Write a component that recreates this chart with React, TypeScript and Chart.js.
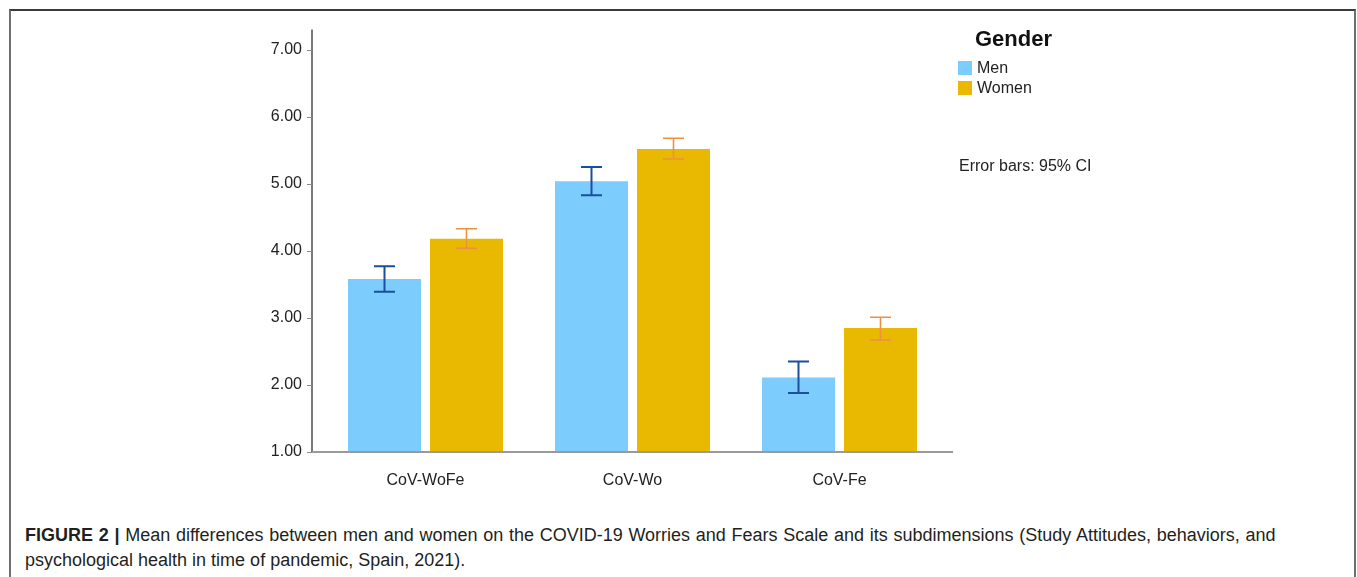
import React, { useEffect, useRef } from "react";
import { Chart, registerables } from "chart.js";

Chart.register(...registerables);

const categories = ["CoV-WoFe", "CoV-Wo", "CoV-Fe"];
const seriesNames = ["Men", "Women"];
const menMeans = [3.58, 5.04, 2.11];
const menLower = [3.39, 4.83, 1.88];
const menUpper = [3.77, 5.25, 2.35];
const womenMeans = [4.18, 5.52, 2.85];
const womenLower = [4.04, 5.37, 2.67];
const womenUpper = [4.33, 5.68, 3.01];
const yTicks = [1, 2, 3, 4, 5, 6, 7];

const barColors = ["#7DCCFE", "#E8B900"];
const errColors = ["#1B4F9C", "#EE9040"];
const lowers = [menLower, womenLower];
const uppers = [menUpper, womenUpper];

const FONT = "'Liberation Sans', Arial, sans-serif";

const errorBarPlugin = {
  id: "errorBars",
  afterDatasetsDraw(chart: any) {
    const ctx = chart.ctx;
    const yScale = chart.scales.y;
    chart.data.datasets.forEach((_ds: any, i: number) => {
      const meta = chart.getDatasetMeta(i);
      meta.data.forEach((bar: any, j: number) => {
        const x = bar.x;
        const yt = yScale.getPixelForValue(uppers[i][j]);
        const yb = yScale.getPixelForValue(lowers[i][j]);
        ctx.save();
        ctx.strokeStyle = errColors[i];
        ctx.lineWidth = i === 0 ? 2 : 1.6;
        ctx.beginPath();
        ctx.moveTo(x, yt);
        ctx.lineTo(x, yb);
        ctx.moveTo(x - 10.5, yt);
        ctx.lineTo(x + 10.5, yt);
        ctx.moveTo(x - 10.5, yb);
        ctx.lineTo(x + 10.5, yb);
        ctx.stroke();
        ctx.restore();
      });
    });
  },
};

const axisPlugin = {
  id: "axisLines",
  afterDraw(chart: any) {
    const ctx = chart.ctx;
    const { left, right, top, bottom } = chart.chartArea;
    const yScale = chart.scales.y;
    const ax = left - 10;
    ctx.save();
    ctx.strokeStyle = "#7a7a7a";
    ctx.lineWidth = 2;
    ctx.beginPath();
    ctx.moveTo(ax, top);
    ctx.lineTo(ax, bottom + 1);
    ctx.stroke();
    ctx.strokeStyle = "#9a9a9a";
    ctx.beginPath();
    ctx.moveTo(ax, bottom);
    ctx.lineTo(right + 10, bottom);
    ctx.stroke();
    ctx.strokeStyle = "#8a8a8a";
    ctx.lineWidth = 1;
    yScale.ticks.forEach((t: any) => {
      const y = Math.round(yScale.getPixelForValue(t.value)) + 0.5;
      ctx.beginPath();
      ctx.moveTo(ax - 5, y);
      ctx.lineTo(ax, y);
      ctx.stroke();
    });
    ctx.restore();
  },
};

export default function App() {
  const canvasRef = useRef<HTMLCanvasElement>(null);

  useEffect(() => {
    document.body.style.margin = "0";
    document.documentElement.style.overflow = "hidden";
    const canvas = canvasRef.current;
    if (!canvas) return;
    const chart = new Chart(canvas, {
      type: "bar",
      data: {
        labels: categories,
        datasets: [
          {
            label: seriesNames[0],
            data: menMeans,
            backgroundColor: barColors[0],
            categoryPercentage: 164 / 207,
            barPercentage: 73 / 82,
          },
          {
            label: seriesNames[1],
            data: womenMeans,
            backgroundColor: barColors[1],
            categoryPercentage: 164 / 207,
            barPercentage: 73 / 82,
          },
        ],
      },
      options: {
        animation: false,
        responsive: false,
        maintainAspectRatio: false,
        devicePixelRatio: 1,
        layout: { padding: { left: 0, right: 414, top: 26, bottom: 8 } },
        plugins: {
          legend: { display: false },
          tooltip: { enabled: false },
          title: { display: false },
        },
        scales: {
          x: {
            grid: { display: false, drawTicks: false },
            border: { display: false },
            ticks: {
              color: "#222",
              padding: 19,
              font: { family: FONT, size: 16 },
            },
            afterFit: (s: any) => {
              s.height = 40;
            },
          },
          y: {
            min: 1,
            max: 7.3,
            grid: { display: false, drawTicks: false },
            border: { display: false },
            afterBuildTicks: (s: any) => {
              s.ticks = yTicks.map((v) => ({ value: v }));
            },
            ticks: {
              color: "#222",
              padding: 20,
              font: { family: FONT, size: 16 },
              callback: (v: any) => Number(v).toFixed(2),
            },
            afterFit: (s: any) => {
              s.width = 322;
            },
          },
        },
      },
      plugins: [errorBarPlugin, axisPlugin],
    });
    return () => chart.destroy();
  }, []);

  return (
    <div
      style={{
        position: "relative",
        width: 1357,
        height: 577,
        overflow: "hidden",
        background: "#fff",
        fontFamily: FONT,
        color: "#222",
      }}
    >
      <div
        style={{
          position: "absolute",
          left: 9,
          top: 9,
          width: 1343,
          height: 620,
          borderTop: "2px solid #3a3a3a",
          borderLeft: "2px solid #707070",
          borderRight: "2px solid #707070",
        }}
      />
      <canvas
        ref={canvasRef}
        width={1357}
        height={500}
        style={{ position: "absolute", left: 0, top: 0, width: 1357, height: 500 }}
      />
      <div
        style={{
          position: "absolute",
          left: 975,
          top: 25,
          fontSize: 22,
          fontWeight: "bold",
          lineHeight: "28px",
          color: "#111",
        }}
      >
        Gender
      </div>
      {seriesNames.map((name, i) => (
        <div
          key={name}
          style={{
            position: "absolute",
            left: 958,
            top: 58 + i * 20,
            height: 20,
            display: "flex",
            alignItems: "center",
            fontSize: 16,
            lineHeight: "20px",
            color: "#222",
          }}
        >
          <span
            style={{
              display: "inline-block",
              width: 14,
              height: 14,
              background: barColors[i],
              marginRight: 5,
            }}
          />
          {name}
        </div>
      ))}
      <div
        style={{
          position: "absolute",
          left: 959,
          top: 156,
          fontSize: 16,
          lineHeight: "20px",
          color: "#222",
        }}
      >
        Error bars: 95% CI
      </div>
      <div
        style={{
          position: "absolute",
          left: 25,
          top: 523,
          fontSize: 18,
          lineHeight: "25px",
          color: "#231f20",
          whiteSpace: "nowrap",
        }}
      >
        <span style={{ wordSpacing: "0.7px" }}>
          <b>FIGURE 2 |</b> Mean differences between men and women on the COVID-19 Worries and Fears Scale and its
          subdimensions (Study Attitudes, behaviors, and
        </span>
        <br />
        psychological health in time of pandemic, Spain, 2021).
      </div>
    </div>
  );
}
